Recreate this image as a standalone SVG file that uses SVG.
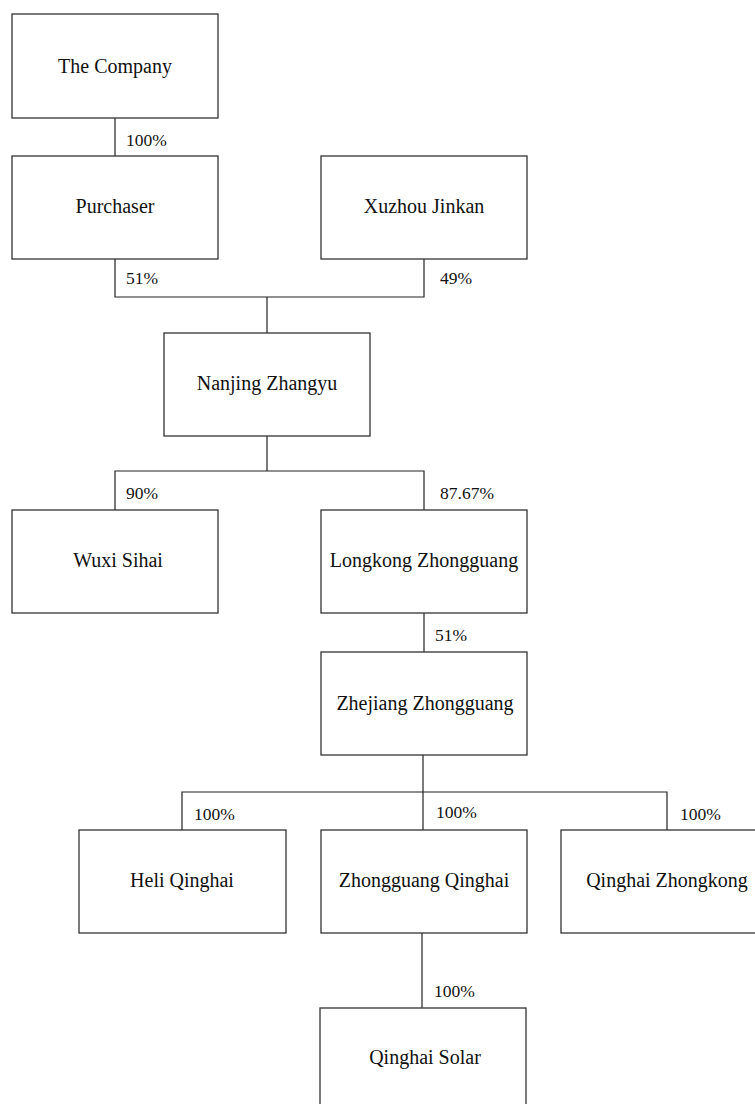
<svg xmlns="http://www.w3.org/2000/svg" width="755" height="1104" viewBox="0 0 755 1104">
<style>
.box{fill:#fff;stroke:#333;stroke-width:1.3}
.name{font-family:"Liberation Serif","Times New Roman",serif;font-size:20px;fill:#111;text-anchor:middle}
.pct{font-family:"Liberation Serif","Times New Roman",serif;font-size:17.5px;fill:#111}
.conn{fill:none;stroke:#222;stroke-width:1.2}
</style>
<rect width="755" height="1104" fill="#fff"/>
<g id="connectors">
<path class="conn" d="M115,118V156"/>
<path class="conn" d="M115,259V297H424V259"/>
<path class="conn" d="M267,297V333"/>
<path class="conn" d="M267,436V471"/>
<path class="conn" d="M115,510V471H424V510"/>
<path class="conn" d="M424,613V652"/>
<path class="conn" d="M423,755V792"/>
<path class="conn" d="M182,830V792H667V830"/>
<path class="conn" d="M423,792V830"/>
<path class="conn" d="M422,933V1008"/>
<text class="pct" x="126" y="146">100%</text>
<text class="pct" x="126" y="284">51%</text>
<text class="pct" x="440" y="284">49%</text>
<text class="pct" x="126" y="499">90%</text>
<text class="pct" x="440" y="499">87.67%</text>
<text class="pct" x="435" y="641">51%</text>
<text class="pct" x="194" y="820">100%</text>
<text class="pct" x="436" y="818">100%</text>
<text class="pct" x="680" y="820">100%</text>
<text class="pct" x="434" y="997">100%</text>
</g>
<g id="the-company"><rect class="box" x="12" y="14" width="206" height="104"/><text class="name" x="115" y="73">The Company</text></g>
<g id="purchaser"><rect class="box" x="12" y="156" width="206" height="103"/><text class="name" x="115" y="213">Purchaser</text></g>
<g id="xuzhou-jinkan"><rect class="box" x="321" y="156" width="206" height="103"/><text class="name" x="424" y="213">Xuzhou Jinkan</text></g>
<g id="nanjing-zhangyu"><rect class="box" x="164" y="333" width="206" height="103"/><text class="name" x="267" y="390">Nanjing Zhangyu</text></g>
<g id="wuxi-sihai"><rect class="box" x="12" y="510" width="206" height="103"/><text class="name" x="118" y="567">Wuxi Sihai</text></g>
<g id="longkong-zhongguang"><rect class="box" x="321" y="510" width="206" height="103"/><text class="name" x="424" y="567">Longkong Zhongguang</text></g>
<g id="zhejiang-zhongguang"><rect class="box" x="321" y="652" width="206" height="103"/><text class="name" x="425" y="710">Zhejiang Zhongguang</text></g>
<g id="heli-qinghai"><rect class="box" x="79" y="830" width="207" height="103"/><text class="name" x="182" y="887">Heli Qinghai</text></g>
<g id="zhongguang-qinghai"><rect class="box" x="321" y="830" width="206" height="103"/><text class="name" x="424" y="887">Zhongguang Qinghai</text></g>
<g id="qinghai-zhongkong"><rect class="box" x="561" y="830" width="211" height="103"/><text class="name" x="667" y="887">Qinghai Zhongkong</text></g>
<g id="qinghai-solar"><rect class="box" x="320" y="1008" width="206" height="104"/><text class="name" x="425" y="1064">Qinghai Solar</text></g>
</svg>
